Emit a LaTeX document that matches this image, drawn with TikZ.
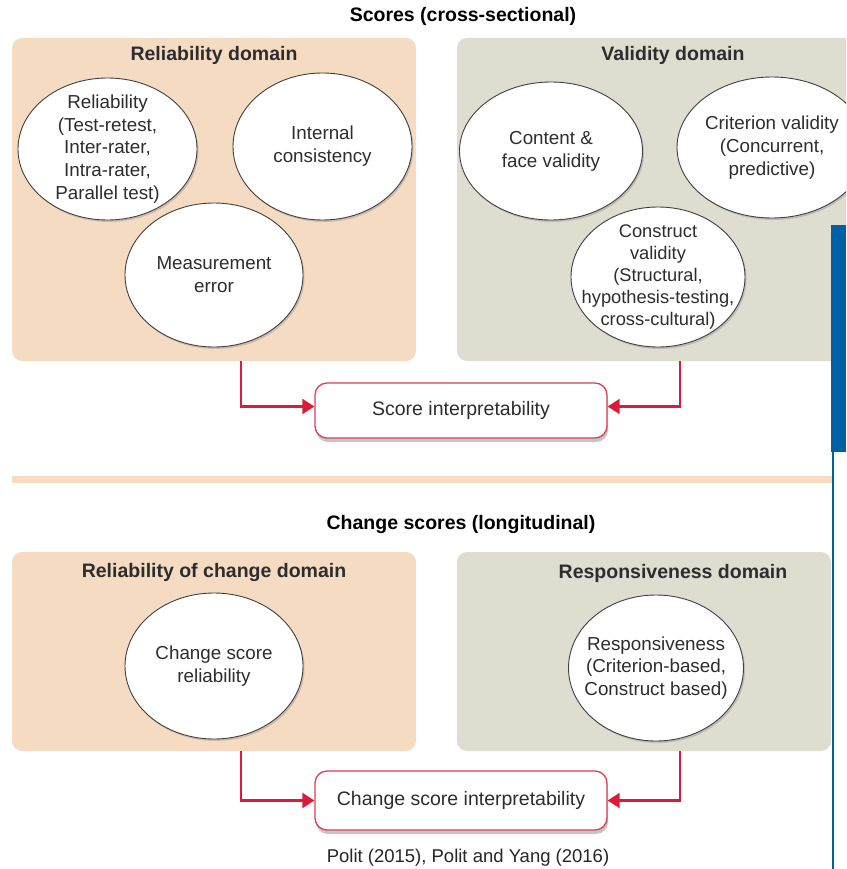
\documentclass[tikz,border=0pt]{standalone}
\usepackage{fontspec}
\setmainfont{Liberation Sans}
\usetikzlibrary{shapes.geometric,shadows,arrows.meta}
\definecolor{peach}{RGB}{246,219,195}
\definecolor{greyp}{RGB}{223,220,208}
\definecolor{redc}{RGB}{218,28,58}
\definecolor{bluec}{RGB}{0,96,166}
\definecolor{txt}{RGB}{45,45,45}
\tikzset{
  panel/.style={rounded corners=10pt, inner sep=0pt, draw=none},
  oval/.style={ellipse, draw=black!75, line width=0.9pt, fill=white, inner sep=0pt,
    align=center, text=txt, font=\fontsize{18.8}{22.8}\selectfont,
    drop shadow={shadow xshift=1.5pt, shadow yshift=-2pt, opacity=0.35}},
  head/.style={font=\bfseries\fontsize{19.5}{23}\selectfont, text=txt, inner sep=0pt},
  outbox/.style={draw=redc!85, fill=white, rounded corners=12pt, line width=1.3pt,
    minimum width=292pt, font=\fontsize{19.5}{23}\selectfont, text=txt,
    drop shadow={shadow xshift=1pt, shadow yshift=-4pt, opacity=0.45}},
  link/.style={draw=redc, line width=2.2pt, -{Triangle[length=12pt,width=15pt]}},
}
\begin{document}
\begin{tikzpicture}[x=1pt,y=-1pt]
\useasboundingbox (0,0) rectangle (846,869);
\clip (0,0) rectangle (846,869);
\fill[white] (0,0) rectangle (846,869);

% ---------- top section ----------
\node[head, text=black] (t1) at (463,16) {Scores (cross-sectional)};
\node[panel, fill=peach, minimum width=404pt, minimum height=323pt] (relp) at (214,199.5) {};
\node[panel, fill=greyp, minimum width=399pt, minimum height=323pt] (valp) at (656.5,199.5) {};
\node[head] (h1) at (214,55) {Reliability domain};
\node[head] (h2) at (673,55) {Validity domain};

\node[oval, minimum width=179pt, minimum height=142pt, inner ysep=-7pt] (rel) at (107.5,149)
  {Reliability\\(Test-retest,\\Inter-rater,\\Intra-rater,\\Parallel test)};
\node[oval, minimum width=179pt, minimum height=147pt] (ic) at (322.5,146.5)
  {Internal\\consistency};
\node[oval, minimum width=178pt, minimum height=144pt] (me) at (214,275)
  {Measurement\\error};

\node[oval, minimum width=183pt, minimum height=138pt] (cf) at (551,151)
  {Content \&\\face validity};
\node[oval, minimum width=190pt, minimum height=141pt, inner xsep=-6pt] (cv) at (772,147.5)
  {Criterion validity\\(Concurrent,\\predictive)};
\node[oval, minimum width=174pt, minimum height=140pt, inner xsep=-16pt, inner ysep=-7pt,
  font=\fontsize{18.3}{22}\selectfont] (cn) at (658,277)
  {Construct\\validity\\(Structural,\\hypothesis-testing,\\cross-cultural)};

\node[outbox, minimum height=55pt] (score) at (461,410.5) {Score interpretability};
\draw[link] ([xshift=27pt]relp.south) |- ([yshift=4pt]score.west);
\draw[link] ([xshift=23.5pt]valp.south) |- ([yshift=4pt]score.east);

% separator and blue bar
\fill[peach] (12,476) rectangle (832,483);
\fill[bluec] (831,225) rectangle (846,452);
\draw[bluec, line width=2pt] (833,452) -- (833,869);

% ---------- bottom section ----------
\node[head, text=black] (t2) at (461,524) {Change scores (longitudinal)};
\node[panel, fill=peach, minimum width=404pt, minimum height=199pt] (rcp) at (214,651.5) {};
\node[panel, fill=greyp, minimum width=374pt, minimum height=199pt] (rsp) at (644,651.5) {};
\node[head] (h3) at (214,572) {Reliability of change domain};
\node[head] (h4) at (673,573) {Responsiveness domain};

\node[oval, minimum width=178pt, minimum height=146pt] (csr) at (214,666)
  {Change score\\reliability};
\node[oval, minimum width=175pt, minimum height=146pt, inner xsep=-14pt] (resp) at (656,668)
  {Responsiveness\\(Criterion-based,\\Construct based)};

\node[outbox, minimum height=59pt] (cscore) at (461,800.5) {Change score interpretability};
\draw[link] ([xshift=27pt]rcp.south) |- (cscore.west);
\draw[link] ([xshift=36pt]rsp.south) |- (cscore.east);

\node[font=\fontsize{18.5}{22}\selectfont, text=black!85, inner sep=0pt] (cap) at (468,858)
  {Polit (2015), Polit and Yang (2016)};
\end{tikzpicture}
\end{document}
